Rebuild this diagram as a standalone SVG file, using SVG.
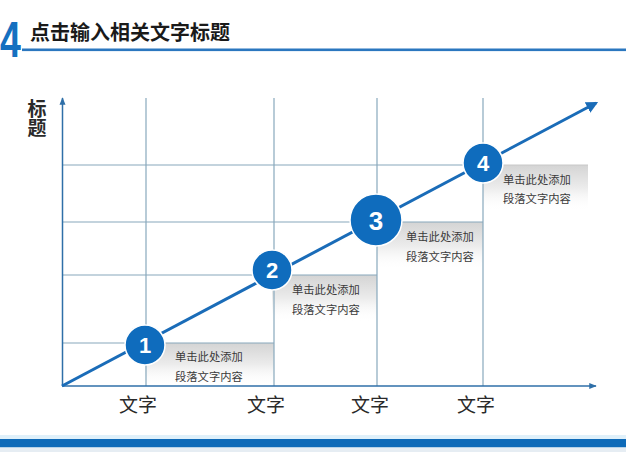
<svg xmlns="http://www.w3.org/2000/svg" width="626" height="452" viewBox="0 0 626 452">
<defs>
<linearGradient id="boxg" x1="0" y1="0" x2="0" y2="1">
<stop offset="0" stop-color="#d4d4d4"/>
<stop offset="0.5" stop-color="#ececec"/>
<stop offset="1" stop-color="#ffffff" stop-opacity="0"/>
</linearGradient>
<marker id="ax" viewBox="0 0 10 10" refX="9" refY="5" markerWidth="5" markerHeight="5" orient="auto" markerUnits="strokeWidth">
<path d="M0,1 L10,5 L0,9 Z" fill="#2f6fa8"/>
</marker>
<marker id="diag" viewBox="0 0 10 10" refX="8" refY="5" markerWidth="4" markerHeight="4" orient="auto" markerUnits="strokeWidth">
<path d="M0,0 L10,5 L0,10 Z" fill="#1a6cb8"/>
</marker>
</defs>
<style>
.grid{stroke:#88a8bc;stroke-width:1.2;fill:none}
.axis{stroke:#2f6fa8;stroke-width:1.5;fill:none}
.cn{font-family:"Liberation Sans","Noto Sans CJK SC",sans-serif}
.desc{font-size:11.3px;fill:#3a3a3a}
.lab{font-size:19px;fill:#2a2a2a;text-anchor:middle}
.circ{fill:#0f6cbd;stroke:#ffffff;stroke-width:1.5}
.num{font-family:"Liberation Sans Narrow","Liberation Sans",sans-serif;font-weight:bold;fill:#ffffff;text-anchor:middle}
</style>
<rect width="626" height="452" fill="#ffffff"/>
<g id="header">
<text x="0" y="57" transform="scale(0.75,1)" font-family="Liberation Sans Narrow, Liberation Sans, sans-serif" font-weight="bold" font-size="50" fill="#1570c0">4</text>
<text x="30" y="40" class="cn" font-size="20" font-weight="bold" fill="#1a1a1a">点击输入相关文字标题</text>
<rect x="22" y="48.5" width="604" height="2.6" fill="#2b77bf"/>
</g>
<g id="footer">
<rect x="0" y="435" width="626" height="4" fill="#dff0fa"/>
<rect x="0" y="439" width="626" height="8.5" fill="#0e6ab8"/>
<rect x="0" y="447.5" width="626" height="4.5" fill="#e6edf3"/>
</g>
<g id="boxes">
<rect x="145" y="343" width="129" height="43" fill="url(#boxg)"/>
<rect x="272" y="275" width="105" height="47" fill="url(#boxg)"/>
<rect x="377" y="222" width="106" height="48" fill="url(#boxg)"/>
<rect x="483" y="165" width="105" height="46" fill="url(#boxg)"/>
</g>
<g id="grid">
<line class="grid" x1="146" y1="98" x2="146" y2="386"/>
<line class="grid" x1="274" y1="98" x2="274" y2="386"/>
<line class="grid" x1="377" y1="98" x2="377" y2="386"/>
<line class="grid" x1="483" y1="98" x2="483" y2="386"/>
<line class="grid" x1="62" y1="165" x2="483" y2="165"/>
<line class="grid" x1="62" y1="222" x2="483" y2="222"/>
<line class="grid" x1="62" y1="275" x2="377" y2="275"/>
<line class="grid" x1="62" y1="343" x2="274" y2="343"/>
<line x1="483" y1="165" x2="588" y2="165" stroke="#c8c8c8" stroke-width="1"/>
</g>
<g id="connectors">
<line class="axis" x1="62.5" y1="386" x2="62.5" y2="98" marker-end="url(#ax)"/>
<line class="axis" x1="62" y1="386" x2="596" y2="386" marker-end="url(#ax)"/>
<line x1="62" y1="386" x2="596" y2="103" stroke="#1a6cb8" stroke-width="3" marker-end="url(#diag)"/>
</g>
<g id="ylabel">
<text x="37" y="116" class="cn" font-size="19" font-weight="bold" fill="#2a2a2a" text-anchor="middle">标</text>
<text x="37" y="135" class="cn" font-size="19" font-weight="bold" fill="#2a2a2a" text-anchor="middle">题</text>
</g>
<g id="xlabels">
<text x="138" y="412" class="cn lab">文字</text>
<text x="266" y="412" class="cn lab">文字</text>
<text x="370" y="412" class="cn lab">文字</text>
<text x="476" y="412" class="cn lab">文字</text>
</g>
<g id="node1">
<circle class="circ" cx="145" cy="345" r="20"/>
<text class="num" x="145" y="353" font-size="22">1</text>
<text class="cn desc" x="175" y="361">单击此处添加</text>
<text class="cn desc" x="175" y="381">段落文字内容</text>
</g>
<g id="node2">
<circle class="circ" cx="272" cy="270" r="20"/>
<text class="num" x="272" y="278" font-size="22">2</text>
<text class="cn desc" x="292" y="294">单击此处添加</text>
<text class="cn desc" x="292" y="314">段落文字内容</text>
</g>
<g id="node3">
<circle class="circ" cx="376" cy="220" r="26"/>
<text class="num" x="376" y="229.5" font-size="26">3</text>
<text class="cn desc" x="406" y="241">单击此处添加</text>
<text class="cn desc" x="406" y="261">段落文字内容</text>
</g>
<g id="node4">
<circle class="circ" cx="483" cy="163" r="20"/>
<text class="num" x="483" y="171" font-size="22">4</text>
<text class="cn desc" x="503" y="184">单击此处添加</text>
<text class="cn desc" x="503" y="203">段落文字内容</text>
</g>
</svg>
